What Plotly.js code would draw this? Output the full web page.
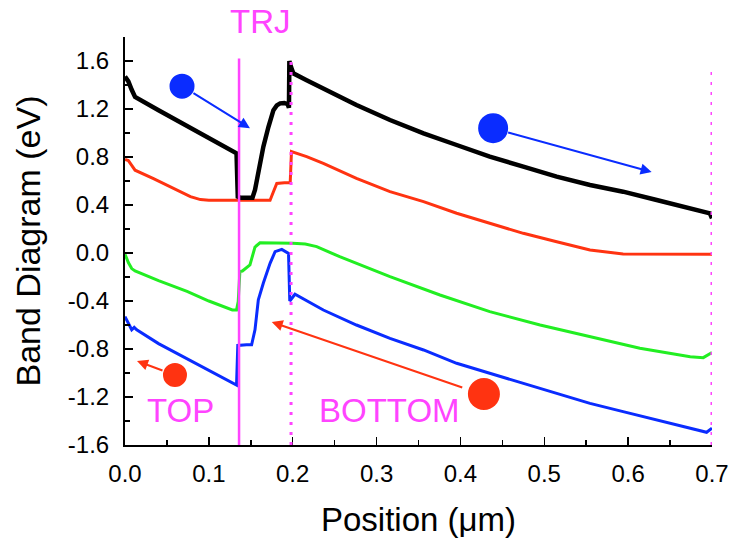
<!DOCTYPE html>
<html>
<head>
<meta charset="utf-8">
<script src="https://cdn.plot.ly/plotly-3.0.1.min.js"></script>
<style>html,body{margin:0;padding:0;background:#fff;}#chart{width:735px;height:544px;}</style>
</head>
<body>
<div id="chart"></div>
<script>
// Conduction band (black)
const blackX = [0, 0.004, 0.008, 0.012, 0.04, 0.07, 0.1, 0.125, 0.133, 0.1345, 0.138, 0.145, 0.152, 0.155, 0.159, 0.165, 0.171, 0.177, 0.181, 0.185, 0.19, 0.194, 0.1955, 0.196, 0.198, 0.2007, 0.2166, 0.2365, 0.276, 0.316, 0.356, 0.3955, 0.435, 0.475, 0.5148, 0.5545, 0.594, 0.634, 0.674, 0.6916, 0.6975, 0.7];
const blackY = [1.47, 1.43, 1.36, 1.30, 1.19, 1.075, 0.958, 0.861, 0.83, 0.47, 0.46, 0.46, 0.46, 0.525, 0.69, 0.886, 1.05, 1.19, 1.23, 1.247, 1.25, 1.24, 1.21, 1.60, 1.55, 1.497, 1.44, 1.372, 1.233, 1.108, 0.997, 0.90, 0.803, 0.72, 0.636, 0.567, 0.511, 0.442, 0.372, 0.344, 0.33, 0.289];
// Electron quasi-Fermi level (red)
const redX = [0, 0.004, 0.008, 0.012, 0.034, 0.062, 0.078, 0.09, 0.1, 0.13, 0.16, 0.173, 0.177, 0.181, 0.19, 0.197, 0.1985, 0.2166, 0.2365, 0.276, 0.316, 0.356, 0.3955, 0.435, 0.475, 0.5148, 0.5545, 0.594, 0.634, 0.7];
const redY = [0.78, 0.77, 0.73, 0.69, 0.62, 0.525, 0.47, 0.445, 0.44, 0.44, 0.44, 0.44, 0.51, 0.58, 0.585, 0.585, 0.845, 0.803, 0.747, 0.622, 0.511, 0.428, 0.331, 0.247, 0.164, 0.094, 0.025, -0.008, -0.01, -0.01];
// Hole quasi-Fermi level (green)
const greenX = [0, 0.004, 0.008, 0.012, 0.04, 0.074, 0.1, 0.128, 0.133, 0.135, 0.137, 0.14, 0.149, 0.155, 0.161, 0.165, 0.2, 0.215, 0.2286, 0.256, 0.316, 0.3756, 0.435, 0.495, 0.5545, 0.614, 0.674, 0.6896, 0.7];
const greenY = [-0.01, -0.08, -0.13, -0.15, -0.23, -0.32, -0.40, -0.475, -0.475, -0.405, -0.155, -0.15, -0.10, 0.05, 0.085, 0.085, 0.081, 0.075, 0.053, -0.031, -0.197, -0.35, -0.489, -0.60, -0.697, -0.794, -0.864, -0.872, -0.83];
// Valence band (blue)
const blueX = [0, 0.004, 0.008, 0.011, 0.014, 0.04, 0.074, 0.1, 0.133, 0.1345, 0.138, 0.145, 0.151, 0.155, 0.159, 0.165, 0.173, 0.179, 0.187, 0.195, 0.1965, 0.1987, 0.2027, 0.2365, 0.276, 0.316, 0.356, 0.3955, 0.435, 0.475, 0.5148, 0.5545, 0.594, 0.634, 0.674, 0.6936, 0.7];
const blueY = [-0.53, -0.58, -0.64, -0.62, -0.64, -0.755, -0.88, -0.975, -1.10, -0.77, -0.767, -0.765, -0.765, -0.64, -0.39, -0.25, -0.086, 0.011, 0.03, -0.003, -0.40, -0.378, -0.344, -0.475, -0.60, -0.711, -0.808, -0.919, -1.003, -1.086, -1.169, -1.253, -1.322, -1.392, -1.461, -1.494, -1.46];

const xTickVals = [0, 0.1, 0.2, 0.3, 0.4, 0.5, 0.6, 0.7];
const xTickText = ["0.0", "0.1", "0.2", "0.3", "0.4", "0.5", "0.6", "0.7"];
const yTickVals = [-1.6, -1.2, -0.8, -0.4, 0.0, 0.4, 0.8, 1.2, 1.6];
const yTickText = ["-1.6", "-1.2", "-0.8", "-0.4", "0.0", "0.4", "0.8", "1.2", "1.6"];

// Interface markers: TRJ (solid), bottom interface and back contact (dotted)
const trjX = [0.136];
const dotX = [0.198, 0.7];
const dotTop = [1.6, 1.52];

// Carrier symbols: centres, radii (px)
const circleX = [0.068, 0.439, 0.0596, 0.428];
const circleY = [1.39, 1.04, -1.017, -1.175];
const circleR = [12.5, 15, 12, 16];
const circleColor = ["#0a2cff", "#0a2cff", "#ff3311", "#ff3311"];
// Arrow tips (data) and tail offsets (px)
const arrowX = [0.149, 0.628, 0.0143, 0.175];
const arrowY = [1.04, 0.675, -0.90, -0.575];
const arrowAX = [-58, -145, 27, 192];
const arrowAY = [-36, -40, 10, 66];

// Labels (TRJ sits above the plot area, so it is placed on the paper)
const labelText = ["TRJ", "TOP", "BOTTOM"];
const labelX = [0.161, 0.066, 0.316];
const labelY = [1.037, -1.31, -1.31];
const labelYRef = ["paper", "y", "y"];

const magenta = "#ff44ff";
const font = "Liberation Sans, Arial, sans-serif";

const traces = [
  {x: redX, y: redY, mode: "lines", line: {color: "#ff3311", width: 3}},
  {x: greenX, y: greenY, mode: "lines", line: {color: "#22ee22", width: 3}},
  {x: blueX, y: blueY, mode: "lines", line: {color: "#0a2cff", width: 3}},
  {x: blackX, y: blackY, mode: "lines", line: {color: "#000000", width: 4.5}}
];

const shapes = [];
trjX.forEach(v => shapes.push({type: "line", xref: "x", yref: "y", x0: v, x1: v, y0: -1.6, y1: 1.62, layer: "above", line: {color: magenta, width: 2.5}}));
dotX.forEach((v, i) => shapes.push({type: "line", xref: "x", yref: "y", x0: v, x1: v, y0: -1.6, y1: dotTop[i], layer: "above", line: {color: magenta, width: 3, dash: "3px,7px"}}));
circleX.forEach((v, i) => shapes.push({type: "circle", xref: "x", yref: "y", xsizemode: "pixel", ysizemode: "pixel", xanchor: v, yanchor: circleY[i], x0: -circleR[i], x1: circleR[i], y0: -circleR[i], y1: circleR[i], fillcolor: circleColor[i], line: {width: 0}, layer: "above"}));

const annotations = [];
arrowX.forEach((v, i) => annotations.push({x: v, y: arrowY[i], xref: "x", yref: "y", ax: arrowAX[i], ay: arrowAY[i], text: "", showarrow: true, arrowhead: 2, arrowsize: 1.1, arrowwidth: 2, arrowcolor: circleColor[i]}));
labelText.forEach((t, i) => annotations.push({x: labelX[i], y: labelY[i], xref: "x", yref: labelYRef[i], xanchor: "center", yanchor: "middle", text: t, showarrow: false, font: {family: font, size: 33, color: magenta}}));

const layout = {
  width: 735, height: 544,
  margin: {l: 125, r: 23, t: 37, b: 99},
  paper_bgcolor: "#ffffff", plot_bgcolor: "#ffffff",
  showlegend: false,
  font: {family: font, color: "#000"},
  xaxis: {
    range: [0, 0.7], showgrid: false, zeroline: false,
    showline: true, linecolor: "#000", linewidth: 2,
    ticks: "inside", ticklen: 8, tickwidth: 1.5, tickcolor: "#000",
    tickvals: xTickVals, ticktext: xTickText,
    tickfont: {family: font, size: 24, color: "#000"},
    ticklabelstandoff: 6,
    minor: {tickvals: [0.05, 0.15, 0.25, 0.35, 0.45, 0.55, 0.65], ticks: "inside", ticklen: 5, tickwidth: 1.5, tickcolor: "#000"},
    title: {text: "Position (μm)", font: {family: font, size: 33, color: "#000"}, standoff: 22}
  },
  yaxis: {
    range: [-1.6, 1.8], showgrid: false, zeroline: false,
    showline: true, linecolor: "#000", linewidth: 2,
    ticks: "inside", ticklen: 8, tickwidth: 1.5, tickcolor: "#000",
    tickvals: yTickVals, ticktext: yTickText,
    tickfont: {family: font, size: 24, color: "#000"},
    ticklabelstandoff: 9,
    minor: {tickvals: [-1.4, -1.0, -0.6, -0.2, 0.2, 0.6, 1.0, 1.4, 1.8], ticks: "inside", ticklen: 5, tickwidth: 1.5, tickcolor: "#000"},
    title: {text: "Band Diagram (eV)", font: {family: font, size: 34, color: "#000"}, standoff: 17}
  },
  shapes: shapes,
  annotations: annotations
};

Plotly.newPlot("chart", traces, layout, {displayModeBar: false, staticPlot: true});
</script>
</body>
</html>
